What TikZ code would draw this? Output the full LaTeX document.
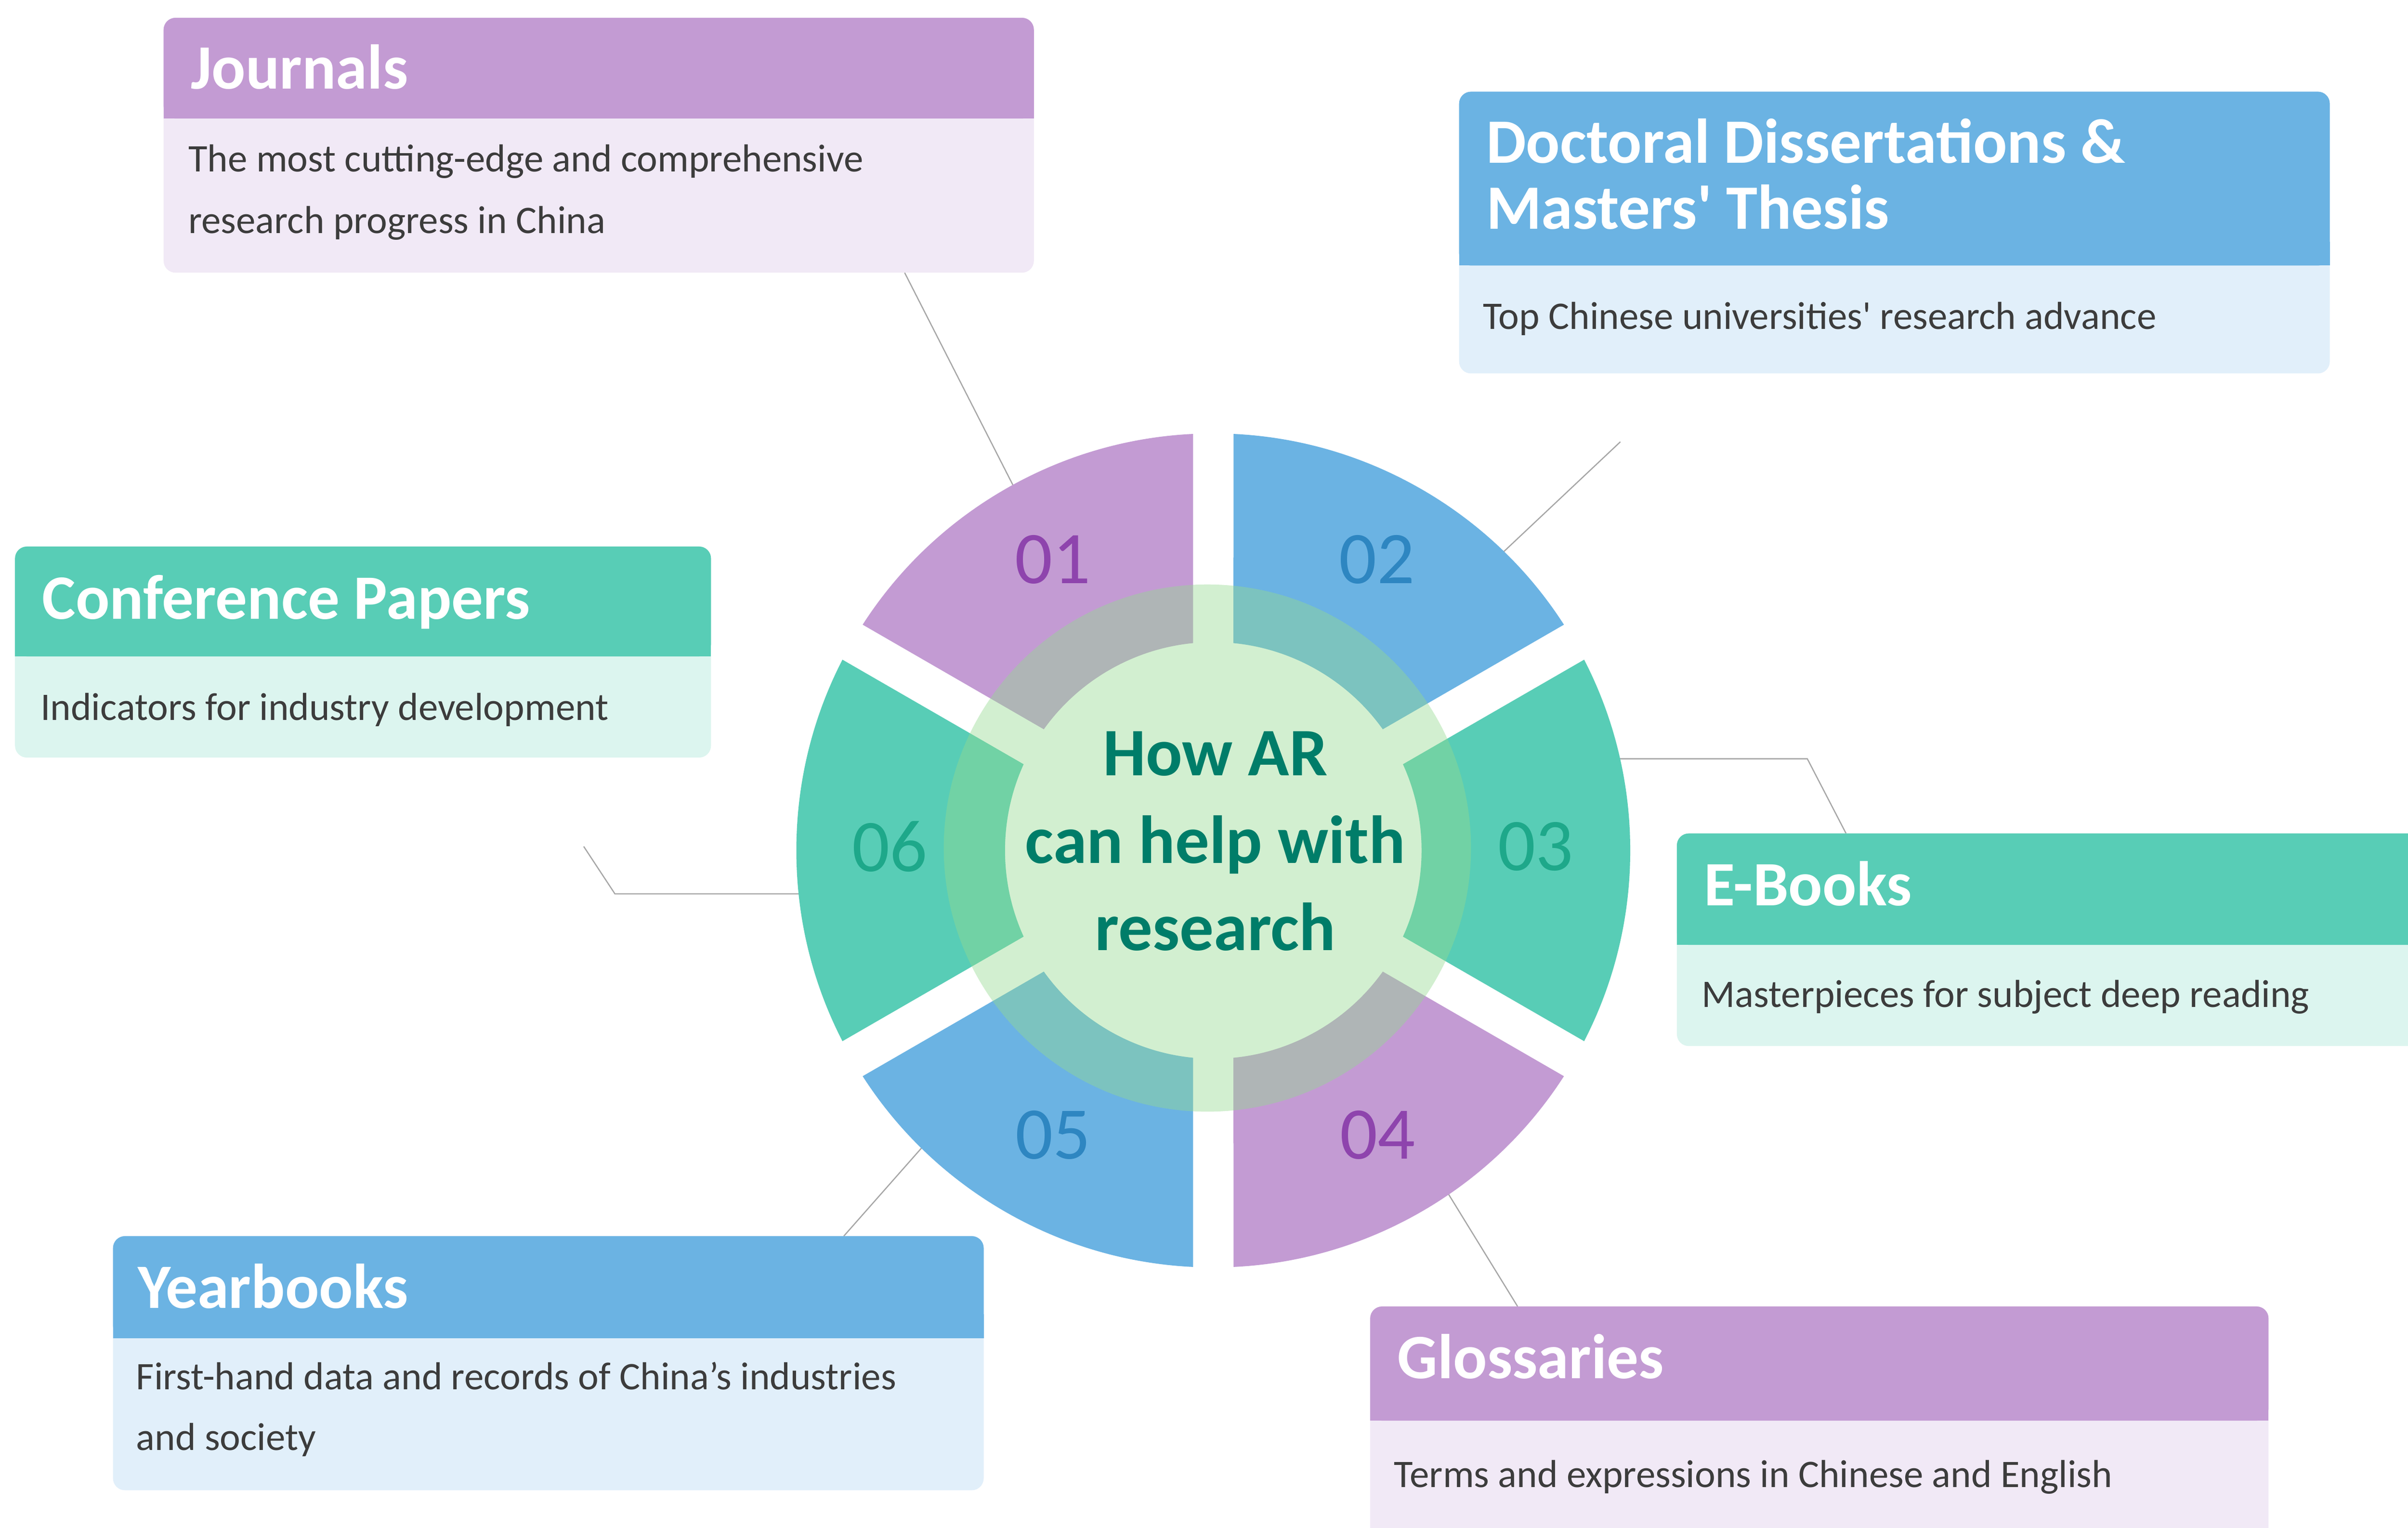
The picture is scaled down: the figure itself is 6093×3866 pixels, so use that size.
\documentclass[tikz,border=0pt]{standalone}
\usepackage{fontspec}
\setmainfont{Carlito}
\definecolor{pH}{RGB}{195,155,211}
\definecolor{pL}{RGB}{241,233,246}
\definecolor{bH}{RGB}{107,179,227}
\definecolor{bL}{RGB}{225,239,250}
\definecolor{gH}{RGB}{88,205,182}
\definecolor{gL}{RGB}{220,245,239}
\definecolor{pD}{RGB}{142,68,173}
\definecolor{bD}{RGB}{46,134,193}
\definecolor{gD}{RGB}{30,168,138}
\definecolor{hubC}{RGB}{148,219,143}
\definecolor{hubT}{RGB}{0,125,105}
\definecolor{bodyT}{RGB}{60,60,60}
\definecolor{lineC}{RGB}{166,166,166}
\tikzset{
  titletext/.style={anchor=base west, inner sep=0pt, text=white, font=\fontsize{40}{42}\selectfont\bfseries},
  bodytext/.style={anchor=base west, inner sep=0pt, text=bodyT, font=\fontsize{24.7}{39}\selectfont},
  numtext/.style={inner sep=0pt, font=\fontsize{47}{50}\selectfont},
  hubtext/.style={anchor=base, inner sep=0pt, text=hubT, font=\fontsize{43}{55}\selectfont\bfseries},
  conn/.style={draw=lineC, line width=0.75pt},
}
\newcommand\infobox[6]{%
  \fill[#6L, rounded corners=7.5pt] (#1,#2) rectangle (#3,#5);
  \fill[#6H, rounded corners=7.5pt] (#1,#2) rectangle (#3,#4);
  \fill[#6H] (#1,#4-60) rectangle (#3,#4);
}
\newcommand\wseg[2]{%
  \begin{scope}[rotate=#1]
    \clip (102,0) -- (1502,808) -- (1502,-808) -- cycle;
    \fill[#2, even odd rule] (0,0) circle[radius=1055] (0,0) circle[radius=527];
  \end{scope}}
\begin{document}
\begin{tikzpicture}[x=0.25pt,y=-0.25pt]
\clip (0,0) rectangle (6093,3866);
\fill[white] (0,0) rectangle (6093,3866);

% connectors
\coordinate (jA) at (2289,690);  \coordinate (jB) at (2576,1253);
\coordinate (dA) at (4100,1118); \coordinate (dB) at (3790,1410);
\coordinate (cA) at (1477,2142); \coordinate (cB) at (1556,2262); \coordinate (cC) at (2040,2262);
\coordinate (eA) at (4080,1920); \coordinate (eB) at (4573,1920); \coordinate (eC) at (4671,2109);
\coordinate (yA) at (2345,2890); \coordinate (yB) at (2135,3128);
\coordinate (gA) at (3653,3002); \coordinate (gB) at (3840,3306);
\draw[conn] (jA) -- (jB);
\draw[conn] (dA) -- (dB);
\draw[conn] (cA) -- (cB) -- (cC);
\draw[conn] (eA) -- (eB) -- (eC);
\draw[conn] (yA) -- (yB);
\draw[conn] (gA) -- (gB);

% wheel
\begin{scope}[shift={(3070,2152)}, yscale=-1]
  \wseg{120}{bH}
  \wseg{60}{pH}
  \wseg{0}{gH}
  \wseg{-60}{bH}
  \wseg{-120}{pH}
  \wseg{180}{gH}
\end{scope}
\fill[hubC, opacity=0.42] (3055,2146) circle[radius=667];

\node[numtext, text=pD] (n1) at (2664,1416) {01};
\node[numtext, text=bD] (n2) at (3484,1416) {02};
\node[numtext, text=gD] (n3) at (3886,2142) {03};
\node[numtext, text=pD] (n4) at (3486,2872) {04};
\node[numtext, text=bD] (n5) at (2665,2872) {05};
\node[numtext, text=gD] (n6) at (2251,2142) {06};

\node[hubtext] (h1) at (3075,1962) {How AR};
\node[hubtext] (h2) at (3075,2184) {can help with};
\node[hubtext] (h3) at (3075,2405) {research};

% boxes
\infobox{414}{45}{2616}{300}{690}{p}
\node[titletext] (jT) at (482,225) {Journals};
\node[bodytext] (jB1) at (476,435) {The most cutting-edge and comprehensive};
\node[bodytext] (jB2) at (476,591) {research progress in China};

\infobox{3692}{232}{5895}{672}{945}{b}
\node[titletext] (dT1) at (3760,412) {Doctoral Dissertations \&};
\node[titletext] (dT2) at (3760,580) {Masters\textquotesingle{} Thesis};
\node[bodytext] (dB1) at (3752,833) {Top Chinese universities\textquotesingle{} research advance};

\infobox{38}{1383}{1799}{1661}{1917}{g}
\node[titletext] (cT) at (106,1566) {Conference Papers};
\node[bodytext] (cB1) at (102,1822) {Indicators for industry development};

\infobox{4243}{2109}{6300}{2391}{2647}{g}
\node[titletext] (eT) at (4311,2291) {E-Books};
\node[bodytext] (eB1) at (4305,2549) {Masterpieces for subject deep reading};

\infobox{286}{3128}{2489}{3386}{3771}{b}
\node[titletext] (yT) at (348,3310) {Yearbooks};
\node[bodytext] (yB1) at (344,3516) {First-hand data and records of China’s industries};
\node[bodytext] (yB2) at (344,3670) {and society};

\infobox{3467}{3306}{5740}{3595}{4000}{p}
\node[titletext] (gT) at (3535,3488) {Glossaries};
\node[bodytext] (gB1) at (3527,3764) {Terms and expressions in Chinese and English};
\end{tikzpicture}
\end{document}
